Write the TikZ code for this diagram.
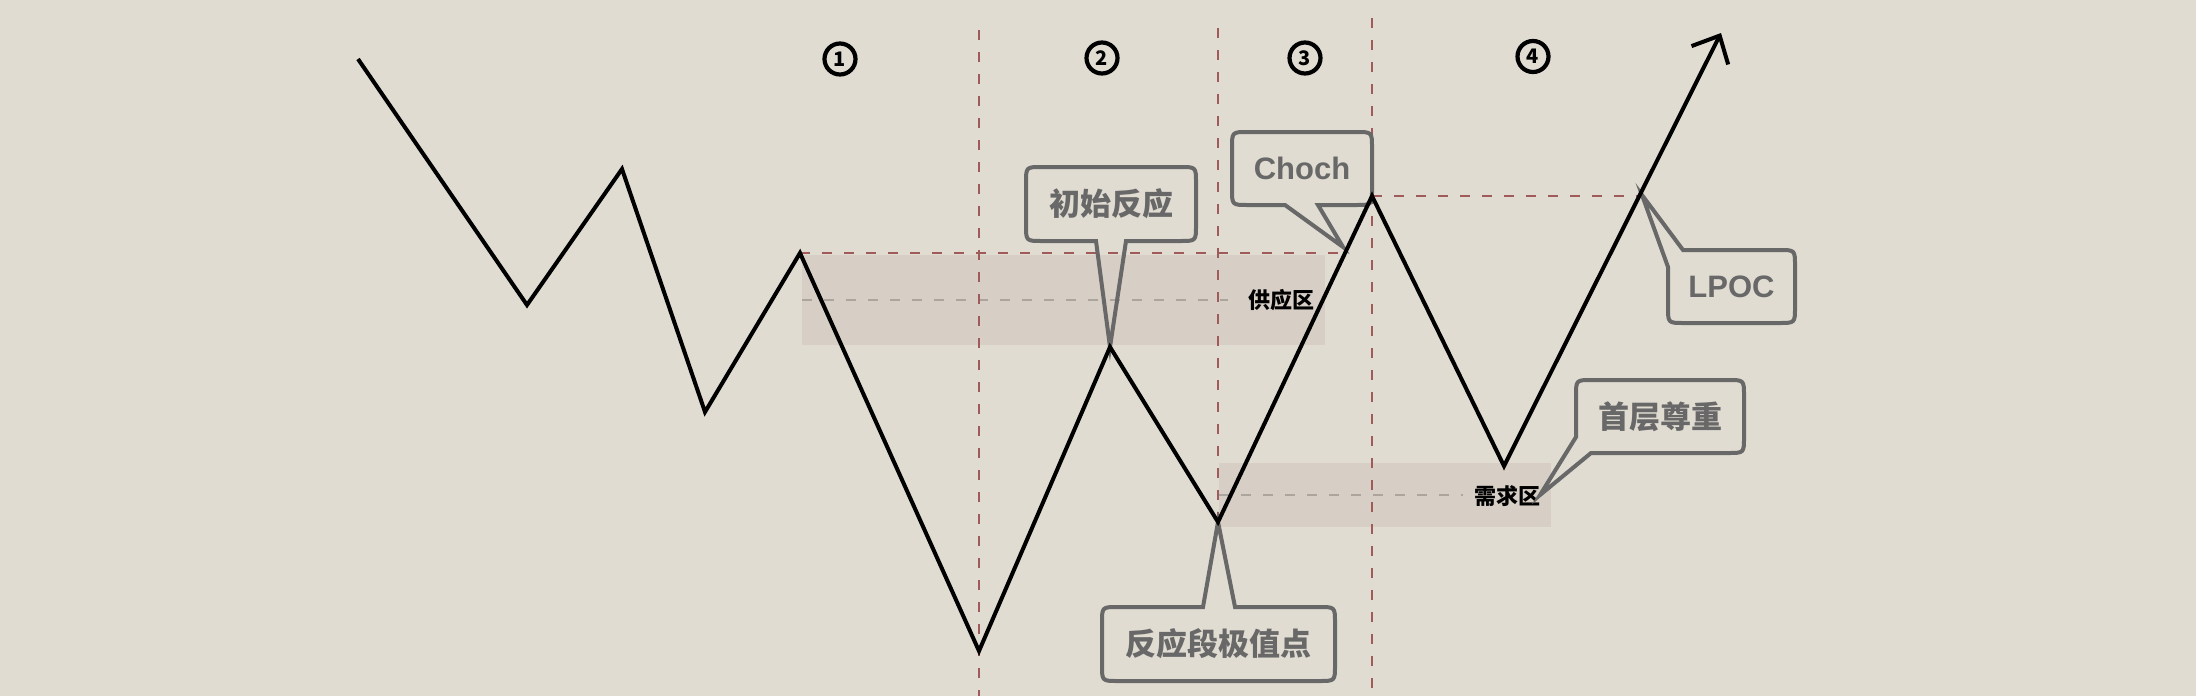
\documentclass[tikz,border=0pt]{standalone}
\usepackage{fontspec}
\setmainfont{Noto Sans CJK SC}
\newfontfamily\latinfont{Liberation Sans}
\usetikzlibrary{arrows.meta}
\definecolor{bgc}{RGB}{224,220,210}
\definecolor{zonec}{RGB}{215,207,198}
\definecolor{redd}{RGB}{160,90,90}
\definecolor{greyd}{RGB}{172,165,157}
\definecolor{cgray}{RGB}{104,104,104}
\begin{document}
\begin{tikzpicture}[x=1pt,y=-1pt,
  zigzag/.style={draw=black, line width=4},
  reddash/.style={draw=redd, line width=2, dash pattern=on 10pt off 12pt},
  greydash/.style={draw=greyd, line width=2, dash pattern=on 10pt off 12pt},
  callout/.style={draw=cgray, line width=4},
  ctext/.style={text=cgray, font=\fontsize{31}{31}\selectfont\bfseries, inner sep=0},
  ltext/.style={text=cgray, font=\latinfont\fontsize{31}{31}\selectfont\bfseries, inner sep=0},
  ztext/.style={text=black, font=\fontsize{22}{22}\selectfont\bfseries, inner sep=0},
  num/.style={circle, draw=black, line width=4.2, minimum size=31, inner sep=0, font=\fontsize{20}{20}\selectfont\bfseries}
]
\useasboundingbox (0,0) rectangle (2196,696);
\fill[bgc] (0,0) rectangle (2196,696);
% zones
\fill[zonec] (802,255) rectangle (1325,345);
\fill[zonec] (1219,463) rectangle (1551,527);
% price path points
\coordinate (P0) at (358,59);
\coordinate (P1) at (527,305);
\coordinate (P2) at (622,169);
\coordinate (P3) at (705,412);
\coordinate (P4) at (800,253);
\coordinate (P5) at (979,651);
\coordinate (P6) at (1110,347);
\coordinate (P7) at (1218,522);
\coordinate (P8) at (1372,196);
\coordinate (P9) at (1504,466);
\coordinate (P10) at (1721,33);
\coordinate (sEnd) at (1344,253);
\coordinate (lEnd) at (1640,196);
\coordinate (v1t) at (979,30);
\coordinate (v1b) at (979,696);
\coordinate (v2t) at (1218,28);
\coordinate (v3t) at (1372,18);
\coordinate (v3b) at (1372,696);
\coordinate (g1a) at (802,300);
\coordinate (g1b) at (1228,300);
\coordinate (g2a) at (1219,495);
\coordinate (g2b) at (1463,495);
\coordinate (chochtip) at (1343,247);
\coordinate (lpoctip) at (1642,195);
\coordinate (demtip) at (1540,495);
% mid lines of zones
\draw[greydash] (g1a) -- (g1b);
\draw[greydash] (g2a) -- (g2b);
% red dashed guides
\draw[reddash] (P4) -- (sEnd);
\draw[reddash] (P8) -- (lEnd);
\draw[reddash] (v1t) -- (v1b);
\draw[reddash] (v2t) -- (P7);
\draw[reddash] (v3t) -- (v3b);
% zone labels
\node[ztext] (supply) at (1281,300) {供应区};
\node[ztext] (demand) at (1507,496) {需求区};
% callouts
\draw[callout] (P6) -- (1126,241) -- (1180,241) .. controls (1196,241) .. (1196,225) -- (1196,183) .. controls (1196,167) .. (1180,167) -- (1042,167) .. controls (1026,167) .. (1026,183) -- (1026,225) .. controls (1026,241) .. (1042,241) -- (1096,241) -- cycle;
\node[ctext] (initial) at (1111,204) {初始反应};
\draw[callout] (chochtip) -- (1318,205) -- (1356,205) .. controls (1372,205) .. (1372,189) -- (1372,148) .. controls (1372,132) .. (1356,132) -- (1248,132) .. controls (1232,132) .. (1232,148) -- (1232,189) .. controls (1232,205) .. (1248,205) -- (1285,205) -- cycle;
\node[ltext] (choch) at (1302,168.5) {Choch};
\draw[callout] (lpoctip) -- (1683,250) -- (1779,250) .. controls (1795,250) .. (1795,266) -- (1795,307) .. controls (1795,323) .. (1779,323) -- (1684,323) .. controls (1668,323) .. (1668,307) -- (1668,267) -- cycle;
\node[ltext] (lpoc) at (1731.5,286.5) {LPOC};
\draw[callout] (demtip) -- (1576,437) -- (1576,396) .. controls (1576,380) .. (1592,380) -- (1728,380) .. controls (1744,380) .. (1744,396) -- (1744,437) .. controls (1744,453) .. (1728,453) -- (1591,453) -- cycle;
\node[ctext] (respect) at (1660,416.5) {首层尊重};
\draw[callout] (P7) -- (1235,607) -- (1319,607) .. controls (1335,607) .. (1335,623) -- (1335,665) .. controls (1335,681) .. (1319,681) -- (1118,681) .. controls (1102,681) .. (1102,665) -- (1102,623) .. controls (1102,607) .. (1118,607) -- (1203,607) -- cycle;
\node[ctext] (extreme) at (1218.5,644) {反应段极值点};
% price path
\draw[zigzag, -{Straight Barb[length=22pt,width=41pt]}] (P0) -- (P1) -- (P2) -- (P3) -- (P4) -- (P5) -- (P6) -- (P7) -- (P8) -- (P9) -- (P10);
% phase numbers
\node[num] (n1) at (840,59) {1};
\node[num] (n2) at (1102,58) {2};
\node[num] (n3) at (1305,58) {3};
\node[num] (n4) at (1533,56.5) {4};
\end{tikzpicture}
\end{document}
